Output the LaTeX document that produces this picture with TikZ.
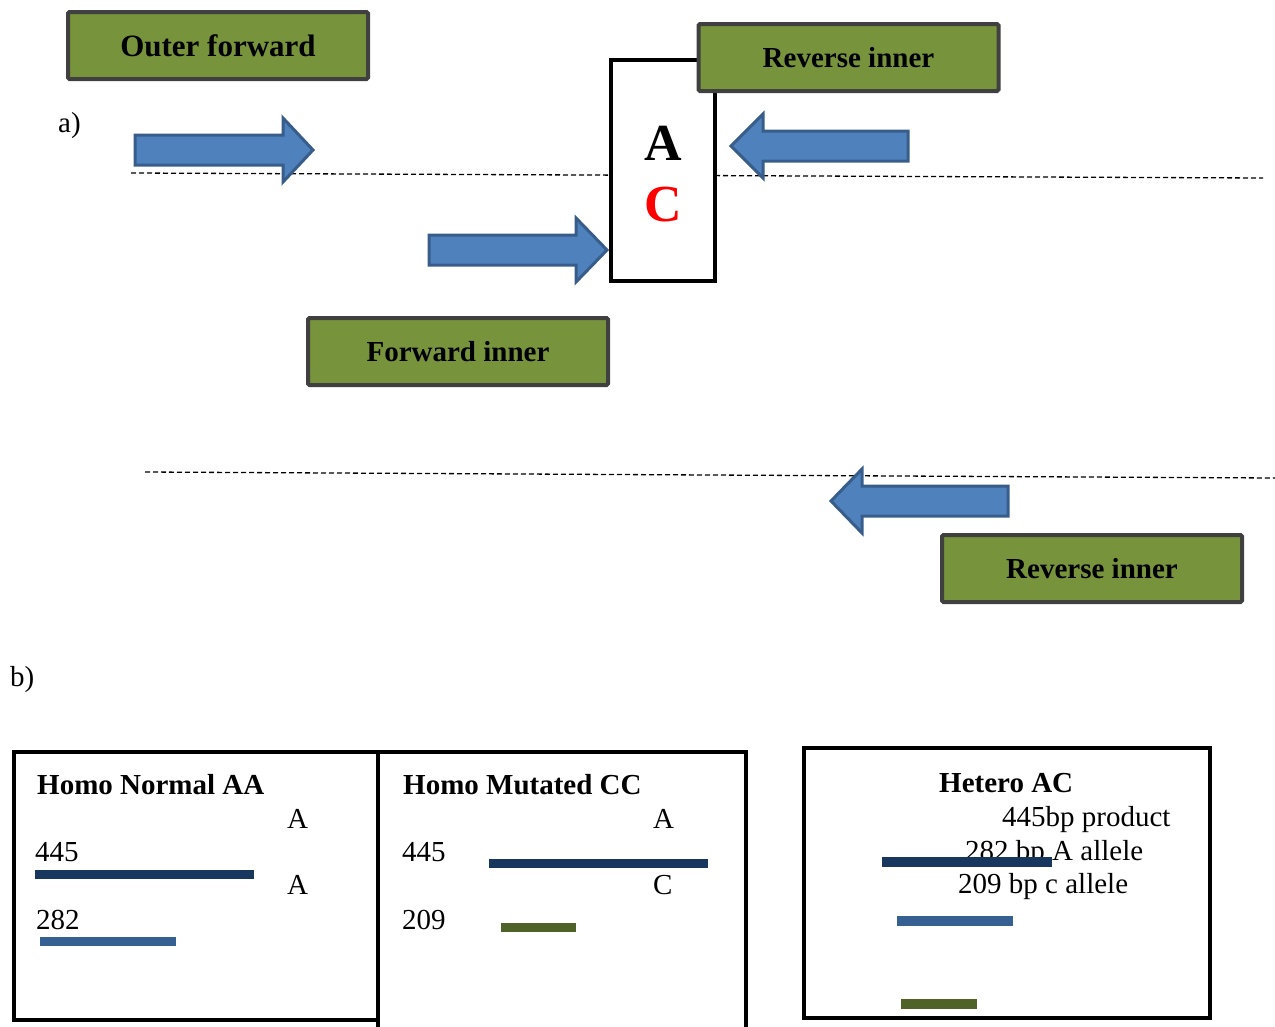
\documentclass[tikz,border=0pt]{standalone}
\usepackage{fontspec}
\setmainfont{Liberation Serif}
\definecolor{boxgreen}{HTML}{77933C}
\definecolor{boxedge}{HTML}{404040}
\definecolor{arrowfill}{HTML}{4F81BD}
\definecolor{arrowedge}{HTML}{385D8A}
\definecolor{navybar}{HTML}{17375E}
\definecolor{bluebar}{HTML}{376092}
\definecolor{olivebar}{HTML}{4F6228}
\tikzset{
 primer/.style={draw=boxedge, fill=boxgreen, line width=4pt, rounded corners=1.5pt,
   minimum width=300pt, minimum height=67pt, inner sep=0pt,
   font=\fontsize{29}{34}\selectfont\bfseries},
 fatarrow/.style={fill=arrowfill, draw=arrowedge, line width=3pt, line join=miter},
 strand/.style={line width=1.3pt, dash pattern=on 5pt off 3pt},
 panel/.style={draw, line width=4pt},
 lbl/.style={font=\fontsize{29}{34}\selectfont, inner sep=0pt, anchor=base west},
 ttl/.style={font=\fontsize{29}{34}\selectfont\bfseries, inner sep=0pt, anchor=base west},
}
\begin{document}
\begin{tikzpicture}[x=1pt,y=-1pt]
\useasboundingbox (0,0) rectangle (1275,1026);
% strands
\coordinate (s1a) at (131,173); \coordinate (s1b) at (1263,178);
\coordinate (s2a) at (145,472); \coordinate (s2b) at (1275,478);
\draw[strand] (s1a) -- (s1b);
\draw[strand] (s2a) -- (s2b);
% arrows
\draw[fatarrow] (135,135) -- (283,135) -- (283,118) -- (313,150) -- (283,182) -- (283,165) -- (135,165) -- cycle;
\draw[fatarrow] (429,235) -- (576,235) -- (576,218) -- (607,250) -- (576,282) -- (576,265) -- (429,265) -- cycle;
\draw[fatarrow] (908,131) -- (763,131) -- (763,114) -- (731,146) -- (763,178) -- (763,161) -- (908,161) -- cycle;
\draw[fatarrow] (1008,486) -- (862,486) -- (862,469) -- (831,501) -- (862,533) -- (862,516) -- (1008,516) -- cycle;
% SNP box
\node[draw, line width=4pt, fill=white, minimum width=104pt, minimum height=221pt, inner sep=0pt] (snp) at (663,170.5) {};
\node[font=\fontsize{52}{56}\selectfont\bfseries, inner sep=0pt] (snpA) at (663,143) {A};
\node[font=\fontsize{52}{56}\selectfont\bfseries, text=red, inner sep=0pt] (snpC) at (663,205) {C};
% primer labels
\node[primer, font=\fontsize{31}{36}\selectfont\bfseries] (outf) at (218,45.5) {Outer forward};
\node[primer] (revi) at (848.5,57.5) {Reverse inner};
\node[primer] (fwdi) at (458,351.5) {Forward inner};
\node[primer] (revo) at (1092,568.5) {Reverse inner};
\node[lbl] (la) at (58,132) {a)};
\node[lbl] (lb) at (10,686) {b)};
% panels
\draw[panel] (14,752) rectangle (378,1020);
\draw[panel] (378,752) rectangle (746,1032);
\draw[panel] (804,748) rectangle (1210,1018);
% panel 1
\node[ttl] (t1) at (37,794) {Homo Normal AA};
\node[lbl] (p1a) at (287,828) {A};
\node[lbl] (p1n1) at (35,861) {445};
\fill[navybar] (35,870) rectangle (254,879);
\node[lbl] (p1b) at (287,894) {A};
\node[lbl] (p1n2) at (36,929) {282};
\fill[bluebar] (40,937) rectangle (176,946);
% panel 2
\node[ttl] (t2) at (403,794) {Homo Mutated CC};
\node[lbl] (p2a) at (653,828) {A};
\node[lbl] (p2n1) at (402,861) {445};
\fill[navybar] (489,859) rectangle (708,868);
\node[lbl] (p2c) at (653,894) {C};
\node[lbl] (p2n2) at (402,929) {209};
\fill[olivebar] (501,923) rectangle (576,932);
% panel 3
\node[ttl] (t3) at (939,792) {Hetero AC};
\node[lbl] (p3a) at (1002,826) {445bp product};
\node[lbl] (p3b) at (965,860) {282 bp A allele};
\node[lbl] (p3c) at (958,893) {209 bp c allele};
\fill[navybar] (882,857) rectangle (1052,867);
\fill[bluebar] (897,916) rectangle (1013,926);
\fill[olivebar] (901,999) rectangle (977,1009);
\end{tikzpicture}
\end{document}
